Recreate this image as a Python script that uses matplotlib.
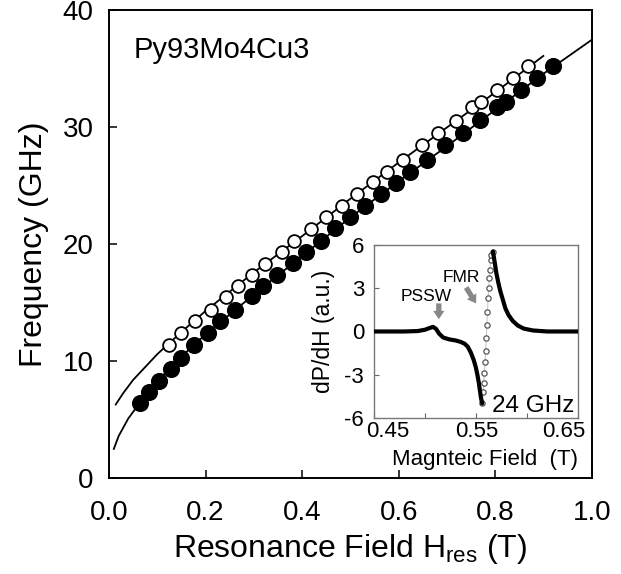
import matplotlib
matplotlib.use("Agg")
import matplotlib.pyplot as plt
from matplotlib.transforms import ScaledTranslation

plt.rcParams['font.family'] = ['Liberation Sans', 'DejaVu Sans']
plt.rcParams['mathtext.fontset'] = 'custom'
plt.rcParams['mathtext.rm'] = 'Liberation Sans'
plt.rcParams['mathtext.it'] = 'Liberation Sans:italic'

# ---- main panel data (resonance field in T, frequency in GHz) ----
filled_field = [0.064, 0.083, 0.104, 0.128, 0.150, 0.176, 0.204, 0.230, 0.261, 0.295,
                0.318, 0.347, 0.380, 0.408, 0.439, 0.468, 0.499, 0.530, 0.563, 0.594,
                0.624, 0.658, 0.696, 0.732, 0.768, 0.804, 0.822, 0.852, 0.885, 0.919]
filled_freq = [6.4, 7.4, 8.3, 9.3, 10.3, 11.4, 12.4, 13.4, 14.4, 15.6,
               16.4, 17.4, 18.4, 19.3, 20.3, 21.4, 22.3, 23.3, 24.3, 25.2,
               26.2, 27.2, 28.5, 29.5, 30.6, 31.7, 32.2, 33.2, 34.2, 35.2]

open_field = [0.124, 0.150, 0.178, 0.211, 0.243, 0.266, 0.295, 0.323, 0.358, 0.383,
              0.418, 0.450, 0.482, 0.513, 0.546, 0.576, 0.608, 0.647, 0.682, 0.718,
              0.751, 0.770, 0.804, 0.836, 0.868]
open_freq = [11.4, 12.4, 13.4, 14.4, 15.5, 16.4, 17.4, 18.35, 19.3, 20.3,
             21.3, 22.3, 23.3, 24.3, 25.3, 26.2, 27.2, 28.5, 29.5, 30.5,
             31.7, 32.2, 33.2, 34.2, 35.2]

# fitted curves
fit_lo_field = [0.010, 0.020, 0.040, 0.070, 0.100, 0.150, 0.200, 0.300, 0.400,
                0.500, 0.600, 0.700, 0.800, 0.900, 1.000]
fit_lo_freq = [2.5, 3.6, 5.1, 6.8, 8.3, 10.4, 12.3, 15.7, 19.0,
               22.3, 25.4, 28.4, 31.5, 34.6, 37.5]
fit_hi_field = [0.014, 0.030, 0.050, 0.100, 0.150, 0.200, 0.300, 0.400,
                0.500, 0.600, 0.700, 0.800, 0.899]
fit_hi_freq = [6.3, 7.3, 8.4, 10.6, 12.5, 14.3, 17.6, 20.7,
               23.9, 27.0, 30.0, 33.0, 36.1]

# ---- inset data: FMR spectrum at 24 GHz ----
low_field = [0.450, 0.480, 0.493, 0.500, 0.505, 0.508, 0.511, 0.514, 0.518, 0.524,
             0.530, 0.535, 0.539, 0.542, 0.545, 0.548, 0.550, 0.5515, 0.553, 0.554,
             0.555, 0.5562]
low_dpdh = [0.0, 0.0, 0.03, 0.12, 0.25, 0.32, 0.18, -0.15, -0.42, -0.55,
            -0.62, -0.72, -0.85, -1.05, -1.45, -2.0, -2.5, -3.0, -3.6, -4.1,
            -4.6, -5.0]
jump_field = [0.5562, 0.5572, 0.5578, 0.5584, 0.5590, 0.5596, 0.5602, 0.5608, 0.5614,
              0.5620, 0.5626, 0.5632, 0.5638, 0.5644, 0.5650, 0.5668]
jump_dpdh = [-5.0, -4.2, -3.6, -2.9, -2.1, -1.35, -0.45, 0.45, 1.35,
             2.3, 3.0, 3.7, 4.3, 4.95, 5.3, 5.55]
high_field = [0.5668, 0.5685, 0.5700, 0.5720, 0.5740, 0.5765, 0.5790, 0.5820,
              0.5860, 0.5910, 0.5970, 0.6060, 0.6200, 0.6500]
high_dpdh = [5.55, 4.8, 4.1, 3.4, 2.8, 2.2, 1.6, 1.15,
             0.75, 0.42, 0.2, 0.07, 0.0, 0.0]

fig = plt.figure(figsize=(6.21, 5.74), dpi=100)
ax = fig.add_axes([0.1755, 0.167, 0.778, 0.815])

ax.plot(fit_lo_field, fit_lo_freq, color='black', lw=1.3, zorder=2)
ax.plot(fit_hi_field, fit_hi_freq, color='black', lw=1.3, zorder=2)
ax.plot(filled_field, filled_freq, 'o', ms=11.3, color='black', zorder=3)
ax.plot(open_field, open_freq, 'o', ms=9.2, mfc='white', mec='black', mew=1.3, zorder=4)

ax.set_xlim(0, 1.0)
ax.set_ylim(0, 40)
ax.set_xticks([0, 0.2, 0.4, 0.6, 0.8, 1.0])
ax.set_xticklabels(['0.0', '0.2', '0.4', '0.6', '0.8', '1.0'])
ax.set_yticks([0, 10, 20, 30, 40])
ax.tick_params(direction='in', length=6, width=1.1, labelsize=20)
ax.tick_params(axis='x', pad=16)
ax.tick_params(axis='y', pad=11)
for s in ax.spines.values():
    s.set_linewidth(1.4)
ax.set_xlabel('Resonance Field H$_{\\mathrm{res}}$ (T)', fontsize=23, labelpad=4)
ax.set_ylabel('Frequency (GHz)', fontsize=23, labelpad=10)
ax.text(0.05, 35.9, 'Py93Mo4Cu3', fontsize=21)

# ---- inset ----
ins = fig.add_axes([0.602, 0.272, 0.3285, 0.301])
ins.plot(low_field, low_dpdh, color='black', lw=3.0, solid_capstyle='round', zorder=3)
ins.plot(high_field, high_dpdh, color='black', lw=3.0, solid_capstyle='round', zorder=3)
ins.plot(jump_field, jump_dpdh, color='#c8c8c8', lw=0.8, marker='o', ms=3.8,
         mfc='white', mec='#555555', mew=0.9, zorder=2)
ins.set_xlim(0.45, 0.65)
ins.set_ylim(-6, 6)
ins.set_xticks([0.45, 0.50, 0.55, 0.60, 0.65])
ins.set_xticklabels(['0.45', '', '0.55', '', '0.65'])
ins.set_yticks([-6, -3, 0, 3, 6])
ins.set_yticklabels(['-6', '-3', '0', '3', '6'])
ins.tick_params(direction='in', length=3.5, width=0.8, color='#666666', labelsize=16)
ins.tick_params(axis='x', pad=2.5)
ins.tick_params(axis='y', pad=7)
for s in ins.spines.values():
    s.set_color('#777777')
    s.set_linewidth(1.0)
shifts = [14, 0, 1, 0, -14]
for lab, dx in zip(ins.get_xticklabels(), shifts):
    lab.set_transform(lab.get_transform() + ScaledTranslation(dx / 100, 0, fig.dpi_scale_trans))
ins.set_xlabel('Magnteic Field  (T)', fontsize=16)
ins.xaxis.set_label_coords(0.545, -0.18)
ins.set_ylabel('dP/dH (a.u.)', fontsize=16.5)
ins.yaxis.set_label_coords(-0.19, 0.5)

ins.text(0.5657, -5.6, '24 GHz', fontsize=17.5)
ins.text(0.5016, 2.41, 'PSSW', fontsize=12.5, ha='center', va='center')
ins.text(0.5358, 3.77, 'FMR', fontsize=12.5, ha='center', va='center')
arrow = dict(arrowstyle='simple,head_width=0.8,head_length=0.6,tail_width=0.38',
             color='#888888', lw=0, shrinkA=0, shrinkB=0)
ins.annotate('', xy=(0.5137, 0.85), xytext=(0.5137, 1.95), arrowprops=arrow)
ins.annotate('', xy=(0.5502, 1.95), xytext=(0.5405, 3.05), arrowprops=arrow)

fig.savefig('out.png', dpi=100)
